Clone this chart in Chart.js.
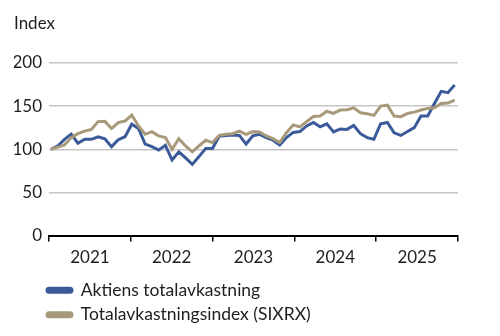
<!DOCTYPE html>
<html>
<head>
<meta charset="utf-8">
<script src="https://cdn.jsdelivr.net/npm/chart.js@4.4.1/dist/chart.umd.min.js"></script>
<style>
  html, body { margin: 0; padding: 0; background: #fff; }
  #wrap { width: 500px; height: 336px; }
</style>
</head>
<body>
<div id="wrap"><canvas id="canvas"></canvas></div>
<script>
var years = ['2021', '2022', '2023', '2024', '2025'];
// monatliche indexwerte, start = 100
var aktien = [100, 103.8, 111.5, 117.5, 107, 111.5, 111.5, 114.5, 112, 103,
	111, 114.5, 129, 124, 106, 103, 99, 104.5, 87.5, 97,
	90, 82.5, 91.5, 101, 101, 115, 116, 116.5, 116, 106,
	115.5, 117.3, 113.5, 110.5, 105, 113.5, 119.5, 120.5, 127, 131,
	126, 129.5, 120, 123.5, 123, 127.5, 118, 113.5, 111.5, 129.5,
	131, 119, 116, 120.5, 125, 138.5, 138.5, 153, 167, 165.5, 174.5];
var sixrx = [100, 102.5, 105, 113.5, 118, 121, 123, 132, 132.3, 124,
	130.8, 132.7, 139.6, 127, 117.3, 120.4, 115.4, 113.5, 100, 112.3,
	103.8, 97, 103.8, 110.4, 107.7, 116, 117.3, 118, 121, 117.3,
	120.4, 120, 115.4, 112.3, 107.7, 119.2, 128, 125.8, 132, 138,
	138.5, 144, 141.5, 145.4, 145.8, 148, 142.3, 141, 139.2, 150,
	151, 138.5, 137.7, 141.5, 143, 145.4, 147.3, 148, 153, 153.5, 157];
var yTicks = [0, 50, 100, 150, 200];
var labelAktien = 'Aktiens totalavkastning';
var labelSixrx = 'Totalavkastningsindex (SIXRX)';

var xMin = -0.3, xMax = 60.5;
var yearLen = (xMax - xMin) / years.length;

function toPoints(arr) {
	return arr.map(function(v, i) { return {x: i, y: v}; });
}

Chart.defaults.font.family = 'Lato';
Chart.defaults.font.size = 17;
Chart.defaults.color = '#1e1e1e';

// legende nach rechts an die achse ruecken
var legendShift = {
	id: 'legendShift',
	afterLayout: function(chart) {
		var lg = chart.legend;
		var d = chart.chartArea.left - 9 - lg.left;
		lg.left += d;
		lg.right += d;
	}
};

const ctx = document.getElementById('canvas').getContext('2d');

const myChart = new Chart(ctx, {
  type: 'line',
  data: {
	datasets: [{
	  label: labelAktien,
	  data: toPoints(aktien),
	  borderColor: '#3b5a9a',
	  backgroundColor: '#3b5a9a',
	  borderWidth: 3,
	  pointRadius: 0,
	  tension: 0,
	  order: 1
	}, {
	  label: labelSixrx,
	  data: toPoints(sixrx),
	  borderColor: '#a8997a',
	  backgroundColor: '#a8997a',
	  borderWidth: 3,
	  pointRadius: 0,
	  tension: 0,
	  order: 0
	}]
  },
  options: {
	responsive: true,
	maintainAspectRatio: false,
	animation: false,
	layout: {
	  padding: { left: 14, right: 42, top: 0, bottom: 2.5 }
	},
	scales: {
	  x: {
		type: 'linear',
		min: xMin,
		max: xMax,
		afterBuildTicks: function(axis) {
			var t = [];
			for (var k = 0; k <= years.length; k++) {
				t.push({value: xMin + k * yearLen});
				if (k < years.length) t.push({value: xMin + (k + 0.5) * yearLen});
			}
			axis.ticks = t;
		},
		afterFit: function(axis) {
			axis.height += 1.5;
		},
		ticks: {
		  autoSkip: false,
		  maxRotation: 0,
		  padding: 5.5,
		  callback: function(value, index) {
			return index % 2 ? years[(index - 1) / 2] : '';
		  }
		},
		grid: {
		  drawOnChartArea: false,
		  tickLength: 6,
		  lineWidth: 1.5,
		  color: function(c) {
			return c.index % 2 ? 'rgba(0,0,0,0)' : '#000';
		  }
		},
		border: { color: '#000', width: 2 }
	  },
	  y: {
		min: yTicks[0],
		max: yTicks[yTicks.length - 1],
		afterBuildTicks: function(axis) {
			axis.ticks = yTicks.map(function(v) { return {value: v}; });
		},
		afterFit: function(axis) {
			axis.width = 35;
		},
		ticks: { padding: 7 },
		grid: {
		  drawTicks: false,
		  lineWidth: 1.5,
		  color: function(c) {
			return (c.tick && c.tick.value === 0) ? 'rgba(0,0,0,0)' : '#c6c6c6';
		  }
		},
		border: { display: false }
	  }
	},
	plugins: {
	  title: {
		display: true,
		text: 'Index',
		align: 'start',
		color: '#1e1e1e',
		font: { size: 17, weight: 'normal' },
		padding: { top: 13, bottom: 29.5 }
	  },
	  legend: {
		position: 'bottom',
		align: 'start',
		labels: {
		  boxWidth: 25,
		  boxHeight: 4,
		  padding: 7,
		  font: { size: 17.5 },
		  useBorderRadius: true,
		  borderRadius: 2,
		  sort: function(a, b) { return a.datasetIndex - b.datasetIndex; }
		}
	  },
	  tooltip: { enabled: false }
	}
  },
  plugins: [legendShift]
});
</script>
</body>
</html>
